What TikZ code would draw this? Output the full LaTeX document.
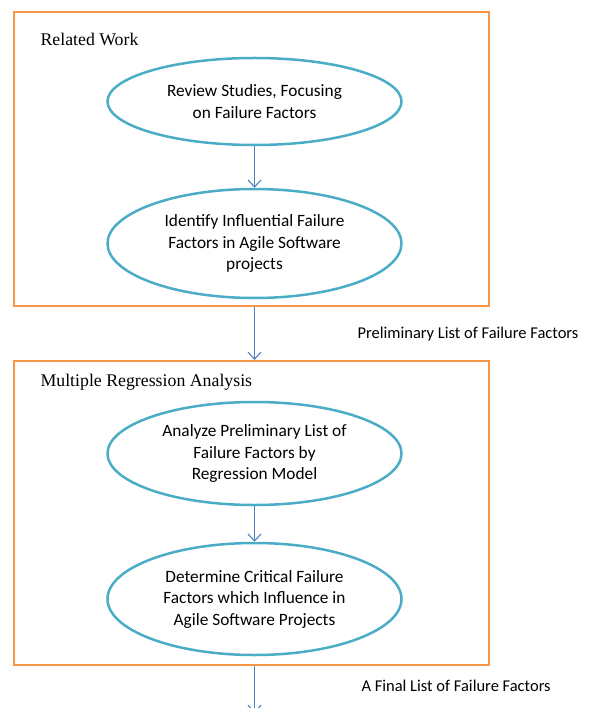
\documentclass[tikz,border=0pt]{standalone}
\usepackage{fontspec}
\setmainfont{Carlito}
\newfontfamily\headfont{Liberation Serif}
\usetikzlibrary{shapes.geometric,arrows.meta}
\definecolor{boxorange}{HTML}{F79646}
\definecolor{ellblue}{HTML}{4BACC6}
\definecolor{arrblue}{HTML}{4F81BD}
\begin{document}
\begin{tikzpicture}[x=1pt,y=1pt,
  stage/.style={draw=boxorange,line width=2.2pt,minimum width=475pt,inner sep=0pt},
  task/.style={ellipse,draw=ellblue,line width=2.5pt,minimum width=294pt,inner sep=0pt,align=center,font=\fontsize{17.3}{21.5}\selectfont},
  flow/.style={draw=arrblue,line width=1.1pt,-{Straight Barb[length=7pt,width=13pt]}},
  heading/.style={anchor=west,font=\headfont\fontsize{17.8}{20}\selectfont},
  note/.style={anchor=west,font=\fontsize{16.5}{19}\selectfont}]
\useasboundingbox(0,0)rectangle(590,-708);
\pgfmathsetmacro{\kx}{254.5}
\node[stage,minimum height=294pt](rw)at(251.5,-159){};
\node[stage,minimum height=304pt](mra)at(251.5,-513){};
\node[heading](rwt)at(37,-39){Related Work};
\node[heading](mrat)at(37,-382){Multiple Regression Analysis};
\node[task,minimum height=87pt](review)at(\kx,-101.5){Review Studies, Focusing\\on Failure Factors};
\node[task,minimum height=109pt](identify)at(\kx,-243.5){Identify Influential Failure\\Factors in Agile Software\\projects};
\node[task,minimum height=103pt](analyze)at(\kx,-453.5){Analyze Preliminary List of\\Failure Factors by\\Regression Model};
\node[task,minimum height=112pt](determine)at(\kx,-599){Determine Critical Failure\\Factors which Influence in\\Agile Software Projects};
\node[note](prelim)at(354,-334){Preliminary List of Failure Factors};
\node[note](final)at(358,-686){A Final List of Failure Factors};
\coordinate(out)at(\kx,-713);
\draw[flow](review)--(identify);
\draw[flow](rw.south-|identify)--(mra.north-|identify);
\draw[flow](analyze)--(determine);
\draw[flow](mra.south-|determine)--(out);
\end{tikzpicture}
\end{document}
